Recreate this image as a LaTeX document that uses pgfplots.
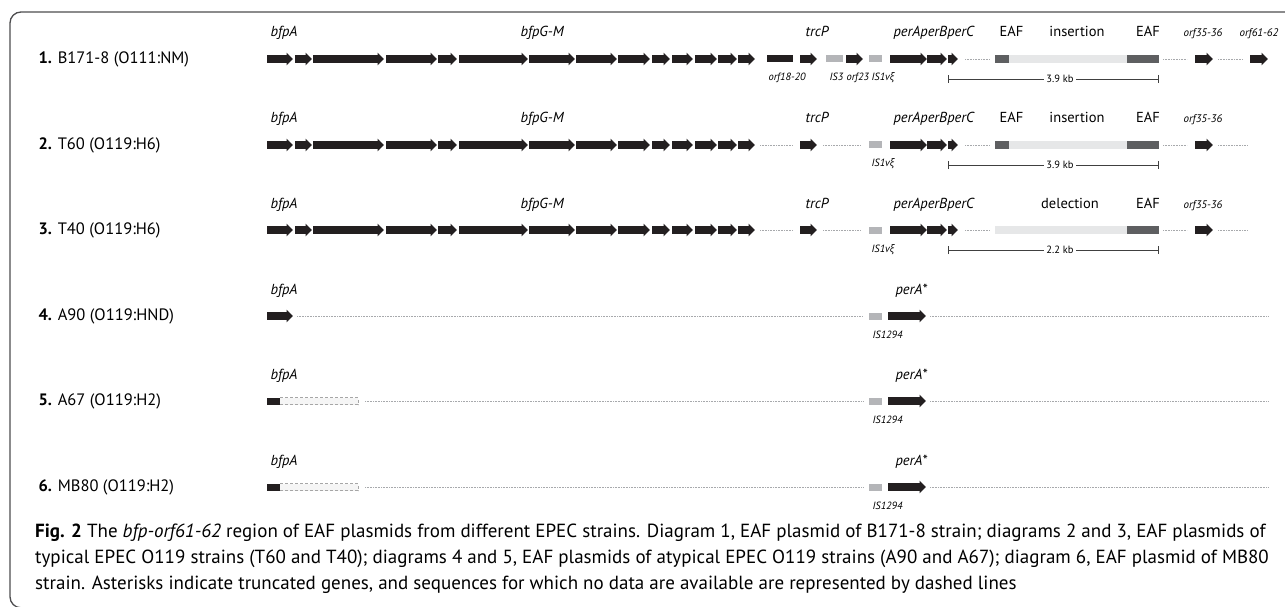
\documentclass[border=0pt]{standalone}
\usepackage{fontspec}
\setmainfont{PT Sans}
\newfontfamily\grk{Open Sans}
\usepackage{pgfplots}
\pgfplotsset{compat=1.18}
\usepackage{pgfplotstable}
\usetikzlibrary{arrows.meta}

\definecolor{gene}{HTML}{231F20}
\definecolor{isgrey}{HTML}{B4B5B8}
\definecolor{eafdark}{HTML}{5E5F61}
\definecolor{eaflight}{HTML}{E6E7E8}
\definecolor{dots}{HTML}{A7A9AC}
\definecolor{frame}{HTML}{4D4D4F}

\newcommand\rowfont{\fontsize{16.5}{19}\selectfont}
\newcommand\genefont{\fontsize{14.5}{16}\selectfont\itshape}
\newcommand\eaffont{\fontsize{14.5}{16}\selectfont}
\newcommand\smallgene{\fontsize{11}{13}\selectfont\itshape}
\newcommand\subfont{\fontsize{10.5}{12}\selectfont\itshape}
\newcommand\kbfont{\fontsize{10.5}{12}\selectfont}
\newcommand\capfont{\fontsize{19}{26}\selectfont}

% genes common to diagrams 1-3: start and length (px)
\pgfplotstableread{
x u
267 26
295 17
313 71
386 51
438 19
459 69
529 46
576 41
618 32
652 18
672 21
695 22
718 19
738 17
800 17
890 37
927 20
948 10
1195 18
}\sharedgenes

% other arrows: start, row, length
\pgfplotstableread{
x y u
846 59 17
1250 59 18
267 316 26
888 316 38
888 401 38
888 487 38
}\othergenes

\pgfplotstableread{
x y u
767 59 26
267 401 13
267 487 13
}\blackboxes

\pgfplotstableread{
x y u
826 59 17
869 59 13
869 145 13
869 230 13
869 316 13
869 401 13
869 487 13
}\isboxes

\pgfplotstableread{
x y u
995 59 14
995 145 14
1127 59 32
1127 145 32
1127 230 32
}\eafboxes

\pgfplotstableread{
x y u
1009 59 118
1009 145 118
995 230 132
}\insboxes

\pgfplotstableread{
x y u
965 59 25
1163 59 24
1218 59 25
760 145 33
823 145 38
965 145 25
1163 145 24
1218 145 30
760 230 33
823 230 38
965 230 25
1163 230 24
1218 230 30
297 316 566
930 316 338
365 401 498
930 401 338
365 487 498
930 487 338
}\nodata

\pgfplotstableread{
x y u
948 79 211
948 165 211
948 250 211
}\scalebars

\begin{document}
\begin{tikzpicture}
\useasboundingbox (0,0) rectangle (1285pt,607pt);
\begin{axis}[
    scale only axis,
    width=1285pt, height=607pt,
    xmin=0, xmax=1285, ymin=0, ymax=607,
    y dir=reverse,
    hide axis,
    clip=false,
]
% unknown sequence
\addplot[dots, line width=0.7pt, dash pattern=on 0.7pt off 0.9pt, no markers,
    quiver={u=\thisrow{u}, v=0}] table[x=x, y=y] {\nodata};
% EAF region
\addplot[eaflight, line width=7.5pt, no markers, quiver={u=\thisrow{u}, v=0}]
    table[x=x, y=y] {\insboxes};
\addplot[eafdark, line width=7.5pt, no markers, quiver={u=\thisrow{u}, v=0}]
    table[x=x, y=y] {\eafboxes};
% insertion sequences
\addplot[isgrey, line width=7pt, no markers, quiver={u=\thisrow{u}, v=0}]
    table[x=x, y=y] {\isboxes};
\addplot[gene, line width=7pt, no markers, quiver={u=\thisrow{u}, v=0}]
    table[x=x, y=y] {\blackboxes};
% truncated bfpA, no data
\addplot[gray!8, line width=7pt, no markers, quiver={u=78, v=0}]
    coordinates {(280,401) (280,487)};
\addplot[gray!70, line width=0.6pt, dash pattern=on 3pt off 2pt, no markers]
    coordinates {(280,397.5) (358,397.5) (358,404.5) (280,404.5)};
\addplot[gray!70, line width=0.6pt, dash pattern=on 3pt off 2pt, no markers]
    coordinates {(280,483.5) (358,483.5) (358,490.5) (280,490.5)};
% genes
\pgfplotsinvokeforeach{59,145,230}{
  \addplot[gene, line width=7.5pt, -{Triangle[length=6.5pt,width=12.5pt]}, no markers,
      quiver={u=\thisrow{u}, v=0}] table[x=x, y expr=#1] {\sharedgenes};
}
\addplot[gene, line width=7.5pt, -{Triangle[length=6.5pt,width=12.5pt]}, no markers,
    quiver={u=\thisrow{u}, v=0}] table[x=x, y=y] {\othergenes};
% size bars
\addplot[black!75, line width=0.8pt, {Bar[width=8pt]}-{Bar[width=8pt]}, no markers,
    quiver={u=\thisrow{u}, v=0}] table[x=x, y=y] {\scalebars};

% labels
\node[anchor=west, font=\rowfont] at (axis cs:35,59) {\textbf{1.} B171-8 (O111:NM)};
\node[anchor=west, font=\rowfont] at (axis cs:35,145) {\textbf{2.} T60 (O119:H6)};
\node[anchor=west, font=\rowfont] at (axis cs:35,230) {\textbf{3.} T40 (O119:H6)};
\node[anchor=west, font=\rowfont] at (axis cs:35,316) {\textbf{4.} A90 (O119:HND)};
\node[anchor=west, font=\rowfont] at (axis cs:35,401) {\textbf{5.} A67 (O119:H2)};
\node[anchor=west, font=\rowfont] at (axis cs:35,487) {\textbf{6.} MB80 (O119:H2)};

\pgfplotsinvokeforeach{59,145,230}{
  \node[anchor=base west, font=\genefont, yshift=22pt] at (axis cs:267,#1) {bfpA};
  \node[anchor=base west, font=\genefont, yshift=22pt] at (axis cs:517,#1) {bfpG-M};
  \node[anchor=base west, font=\genefont, yshift=22pt] at (axis cs:802,#1) {trcP};
  \node[anchor=base west, font=\genefont, yshift=22pt] at (axis cs:890,#1) {perAperBperC};
  \node[anchor=base, font=\eaffont, yshift=22pt] at (axis cs:1148,#1) {EAF};
  \node[anchor=base, font=\smallgene, yshift=22pt] at (axis cs:1203,#1) {orf35-36};
  \node[anchor=base west, font=\subfont, yshift=-22pt] at (axis cs:868,#1) {IS1v{\grk ξ}};
}
\node[anchor=base west, font=\eaffont, yshift=22pt] at (axis cs:996,59) {EAF};
\node[anchor=base west, font=\eaffont, yshift=22pt] at (axis cs:996,145) {EAF};
\node[anchor=base, font=\eaffont, yshift=22pt] at (axis cs:1077,59) {insertion};
\node[anchor=base, font=\eaffont, yshift=22pt] at (axis cs:1077,145) {insertion};
\node[anchor=base, font=\eaffont, yshift=22pt] at (axis cs:1070,230) {delection};
\node[anchor=base, font=\smallgene, yshift=22pt] at (axis cs:1259,59) {orf61-62};
\node[anchor=base west, font=\subfont, yshift=-22pt] at (axis cs:765,59) {orf18-20};
\node[anchor=base west, font=\subfont, yshift=-22pt] at (axis cs:826,59) {IS3};
\node[anchor=base west, font=\subfont, yshift=-22pt] at (axis cs:843,59) {orf23};

\node[fill=white, inner sep=2pt, font=\kbfont] at (axis cs:1060,79) {3.9 kb};
\node[fill=white, inner sep=2pt, font=\kbfont] at (axis cs:1060,165) {3.9 kb};
\node[fill=white, inner sep=2pt, font=\kbfont] at (axis cs:1060,250) {2.2 kb};

\pgfplotsinvokeforeach{316,401,487}{
  \node[anchor=base west, font=\genefont, yshift=22pt] at (axis cs:267,#1) {bfpA};
  \node[anchor=base west, font=\genefont, yshift=22pt] at (axis cs:892,#1) {perA*};
  \node[anchor=base west, font=\subfont, yshift=-22pt] at (axis cs:869,#1) {IS1294};
}

\node[anchor=north west, inner sep=0pt, align=left, font=\capfont] at (axis cs:35,524)
  {\textbf{Fig. 2} The \textit{bfp-orf61-62} region of EAF plasmids from different EPEC strains. Diagram 1, EAF plasmid of B171-8 strain; diagrams 2 and 3, EAF plasmids of\\
   typical EPEC O119 strains (T60 and T40); diagrams 4 and 5, EAF plasmids of atypical EPEC O119 strains (A90 and A67); diagram 6, EAF plasmid of MB80\\
   strain. Asterisks indicate truncated genes, and sequences for which no data are available are represented by dashed lines};

\draw[frame, line width=1.3pt, rounded corners=11pt]
  (axis cs:1290,12) -- (axis cs:10,12) -- (axis cs:10,607.8) -- (axis cs:1290,607.8);
\end{axis}
\end{tikzpicture}
\end{document}
